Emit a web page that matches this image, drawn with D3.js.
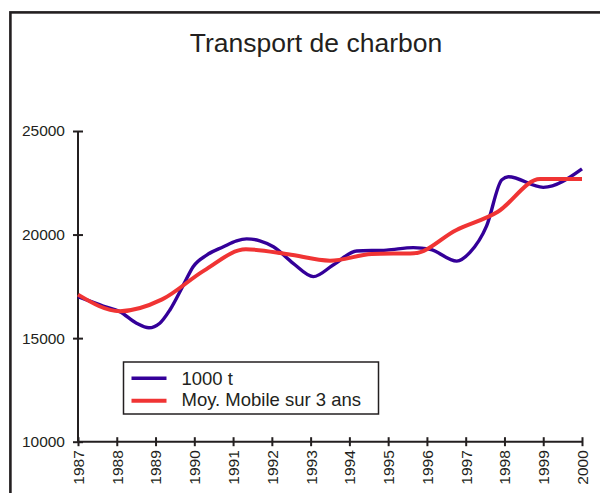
<!DOCTYPE html>
<html>
<head>
<meta charset="utf-8">
<script src="https://cdn.jsdelivr.net/npm/d3@7"></script>
<style>
  body { margin: 0; background: #fff; }
  svg { display: block; font-family: "Liberation Sans", Arial, sans-serif; }
  .axis path, .axis line { stroke: #231f20; stroke-width: 2; }
  .axis text { fill: #231f20; font-size: 15.5px; }
</style>
</head>
<body>
<div id="chart"></div>
<script>
// Years on the axis
const years = d3.range(1987, 2001);
const yTicks = [10000, 15000, 20000, 25000];

// Série "1000 t" (decimal years)
const tonYears = [1987.00, 1987.65, 1988.08, 1988.51, 1988.83, 1989.11, 1989.37, 1989.72, 1989.97,
  1990.32, 1990.75, 1991.09, 1991.35, 1991.69, 1992.04, 1992.55, 1993.07, 1993.58, 1994.19,
  1994.96, 1995.65, 1996.08, 1996.77, 1997.11, 1997.54, 1997.93, 1998.10, 1999.00, 2000.00];
const tonValues = [17000, 16550, 16280, 15720, 15500, 15720, 16360, 17570, 18450,
  19010, 19410, 19700, 19790, 19700, 19410, 18610, 17970, 18530, 19210,
  19250, 19370, 19290, 18720, 19140, 20420, 22640, 22790, 22280, 23170];

// Moyenne mobile sur 3 ans
const mmYears = [1987.00, 1988.08, 1989.17, 1990.25, 1991.33, 1992.42, 1993.50,
  1994.58, 1995.67, 1996.75, 1997.83, 1998.92, 2000.00];
const mmValues = [17100, 16300, 16870, 18260, 19290, 19050, 18740,
  19060, 19100, 20210, 21100, 22680, 22680];

const width = 600, height = 493;

const svg = d3.select("#chart").append("svg")
  .attr("width", width)
  .attr("height", height);

svg.append("rect")
  .attr("width", width).attr("height", height)
  .attr("fill", "#fff");

// cadre (only top and left are visible)
svg.append("rect")
  .attr("x", 10.4).attr("y", 12.4)
  .attr("width", 800).attr("height", 800)
  .attr("fill", "none")
  .attr("stroke", "#231f20")
  .attr("stroke-width", 2.6);

const x = d3.scaleLinear().domain([1987, 2000]).range([78, 582]);
const y = d3.scaleLinear().domain([10000, 25000]).range([441.7, 131]);

svg.append("text")
  .attr("x", 316)
  .attr("y", 52.3)
  .attr("text-anchor", "middle")
  .attr("font-size", "26.5px")
  .attr("fill", "#231f20")
  .text("Transport de charbon");

// axe Y
const yAxis = svg.append("g")
  .attr("class", "axis")
  .attr("transform", "translate(78,0)")
  .call(d3.axisLeft(y).tickValues(yTicks).tickSize(5).tickPadding(8).tickFormat(d3.format("d")));
yAxis.selectAll(".tick line").attr("x1", 5);
yAxis.select(".domain").attr("d", "M0," + y(10000) + "V" + y(25000));

// axe X
const xAxis = svg.append("g")
  .attr("class", "axis")
  .attr("transform", "translate(0," + y(10000) + ")")
  .call(d3.axisBottom(x).tickValues(years).tickSize(4.5).tickFormat(d3.format("d")));
xAxis.selectAll(".tick line").attr("y1", -4.5);
xAxis.select(".domain").attr("d", "M" + x(1987) + ",0H" + x(2000));
xAxis.selectAll(".tick text")
  .attr("transform", "rotate(-90)")
  .attr("text-anchor", "end")
  .attr("x", -8.5)
  .attr("y", 0)
  .attr("dy", "0.35em");

// courbes
const ton = tonYears.map((d, i) => [d, tonValues[i]]);
const mm = mmYears.map((d, i) => [d, mmValues[i]]);

const line = d3.line()
  .x(d => x(d[0]))
  .y(d => y(d[1]))
  .curve(d3.curveMonotoneX);

svg.append("path")
  .datum(ton)
  .attr("fill", "none")
  .attr("stroke", "#340099")
  .attr("stroke-width", 3.4)
  .attr("stroke-linejoin", "round")
  .attr("d", line);

svg.append("path")
  .datum(mm)
  .attr("fill", "none")
  .attr("stroke", "#f03434")
  .attr("stroke-width", 4)
  .attr("stroke-linejoin", "round")
  .attr("d", line);

// légende
const legend = svg.append("g");
legend.append("rect")
  .attr("x", 123.5).attr("y", 362)
  .attr("width", 255).attr("height", 52)
  .attr("fill", "#fff")
  .attr("stroke", "#231f20")
  .attr("stroke-width", 1.5);

const legendItems = [
  { label: "1000 t", color: "#340099", width: 3.4, ly: 378.3, ty: 385 },
  { label: "Moy. Mobile sur 3 ans", color: "#f03434", width: 4, ly: 400.7, ty: 406 }
];
legendItems.forEach(item => {
  legend.append("line")
    .attr("x1", 131.5).attr("x2", 166.5)
    .attr("y1", item.ly).attr("y2", item.ly)
    .attr("stroke", item.color)
    .attr("stroke-width", item.width);
  legend.append("text")
    .attr("x", 181.5).attr("y", item.ty)
    .attr("font-size", "18.5px")
    .attr("fill", "#231f20")
    .text(item.label);
});
</script>
</body>
</html>
